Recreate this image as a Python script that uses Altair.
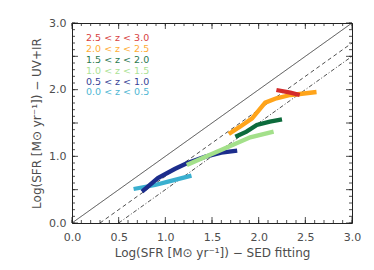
import altair as alt
import pandas as pd
import numpy as np

# ---- data ----
labels = ["2.5 < z < 3.0", "2.0 < z < 2.5", "1.5 < z < 2.0",
          "1.0 < z < 1.5", "0.5 < z < 1.0", "0.0 < z < 0.5"]
colors = ["#d42b2b", "#ffa41a", "#0d6b3c", "#a3e08a", "#1c2d8c", "#3aafcf"]

cyan_x = [0.66, 0.89, 1.03, 1.28]
cyan_y = [0.51, 0.57, 0.62, 0.71]
blue_x = [0.75, 0.92, 1.10, 1.23, 1.43, 1.60, 1.77]
blue_y = [0.47, 0.675, 0.81, 0.895, 0.995, 1.055, 1.085]
lgreen_x = [1.23, 1.43, 1.64, 1.91, 2.16]
lgreen_y = [0.87, 0.995, 1.12, 1.285, 1.37]
dgreen_x = [1.75, 1.87, 1.98, 2.12, 2.25]
dgreen_y = [1.295, 1.37, 1.47, 1.52, 1.555]
orange_x = [1.68, 1.80, 1.93, 2.07, 2.19, 2.34, 2.44, 2.62]
orange_y = [1.335, 1.445, 1.57, 1.805, 1.87, 1.92, 1.935, 1.965]
red_x = [2.19, 2.34, 2.44]
red_y = [1.995, 1.955, 1.92]

series_x = [red_x, orange_x, dgreen_x, lgreen_x, blue_x, cyan_x]
series_y = [red_y, orange_y, dgreen_y, lgreen_y, blue_y, cyan_y]

ref_kind = ["solid", "solid", "dash", "dash", "dashdot", "dashdot"]
ref_x = [0.0, 3.0, 0.3, 3.0, 0.5, 3.0]
ref_y = [0.0, 3.0, 0.0, 2.7, 0.0, 2.5]

legend_x = 0.15
legend_y = [2.77, 2.605, 2.445, 2.285, 2.12, 1.96]

major_ticks = [0.0, 0.5, 1.0, 1.5, 2.0, 2.5, 3.0]
minor_ticks = [round(v, 1) for v in np.arange(0, 3.01, 0.1)]

W, H = 280, 200
FONT = "DejaVu Sans"
TXT = "#4d4d4d"

xs = alt.Scale(domain=[0, 3], nice=False, zero=False)
ys = alt.Scale(domain=[0, 3], nice=False, zero=False)

rows = []
for lab, xv, yv in zip(labels, series_x, series_y):
    for a, b in zip(xv, yv):
        rows.append({"z": lab, "x": a, "y": b})
df = pd.DataFrame(rows)
draw_order = labels[::-1]  # low z first, high z on top

base_x = alt.X("x:Q", scale=xs,
               axis=alt.Axis(values=major_ticks, format=".1f", tickSize=0, domain=False, grid=False,
                             labelFlush=False, labelPadding=8, labelFontSize=11, labelFont=FONT,
                             labelColor=TXT,
                             title="Log(SFR [M⊙ yr⁻¹]) − SED fitting", titleFont=FONT,
                             titleFontSize=12, titleFontWeight="normal", titleColor=TXT,
                             titlePadding=5))
base_y = alt.Y("y:Q", scale=ys,
               axis=alt.Axis(values=major_ticks, format=".1f", tickSize=0, domain=False, grid=False,
                             labelFlush=False, labelPadding=6, labelFontSize=11, labelFont=FONT,
                             labelColor=TXT,
                             title="Log(SFR [M⊙ yr⁻¹]) − UV+IR", titleFont=FONT,
                             titleFontSize=12, titleFontWeight="normal", titleColor=TXT,
                             titlePadding=5))

ref_df = pd.DataFrame({"kind": ref_kind, "x": ref_x, "y": ref_y})
refs = alt.Chart(ref_df).mark_line(color="#222222", strokeWidth=0.8, clip=True).encode(
    x=base_x, y=base_y, detail="kind:N",
    strokeDash=alt.StrokeDash("kind:N",
                              scale=alt.Scale(domain=["solid", "dash", "dashdot"],
                                              range=[[1, 0], [4, 3], [4, 2, 1, 2]]),
                              legend=None))

layers = [refs]
for lab in draw_order:
    c = colors[labels.index(lab)]
    layers.append(alt.Chart(df[df.z == lab]).mark_line(color=c, strokeWidth=4.3, strokeCap="butt").encode(
        x=alt.X("x:Q", scale=xs), y=alt.Y("y:Q", scale=ys), order="x:Q"))

leg_df = pd.DataFrame({"label": labels, "x": [legend_x] * 6, "y": legend_y, "c": colors})
legend = alt.Chart(leg_df).mark_text(align="left", baseline="middle", font=FONT, fontSize=9.5,
                                     opacity=0.9).encode(
    x=alt.X("x:Q", scale=xs), y=alt.Y("y:Q", scale=ys), text="label:N",
    color=alt.Color("c:N", scale=None))
layers.append(legend)

# inward ticks on all four sides
maj = pd.DataFrame({"v": major_ticks})
mnr = pd.DataFrame({"v": minor_ticks})
tick_color = "#222222"
for d, L in [(mnr, 3), (maj, 6)]:
    layers.append(alt.Chart(d).mark_rule(color=tick_color, strokeWidth=0.8).encode(
        x=alt.X("v:Q", scale=xs), y=alt.value(H), y2=alt.value(H - L)))
    layers.append(alt.Chart(d).mark_rule(color=tick_color, strokeWidth=0.8).encode(
        x=alt.X("v:Q", scale=xs), y=alt.value(0), y2=alt.value(L)))
    layers.append(alt.Chart(d).mark_rule(color=tick_color, strokeWidth=0.8).encode(
        y=alt.Y("v:Q", scale=ys), x=alt.value(0), x2=alt.value(L)))
    layers.append(alt.Chart(d).mark_rule(color=tick_color, strokeWidth=0.8).encode(
        y=alt.Y("v:Q", scale=ys), x=alt.value(W), x2=alt.value(W - L)))

chart = alt.layer(*layers).properties(
    width=W, height=H,
    autosize=alt.AutoSizeParams(type="none"),
    padding={"left": 64, "top": 15, "right": 14, "bottom": 40},
).configure_view(stroke="#222222", strokeWidth=1)

chart.save("out.html", embed_options={"renderer": "svg", "actions": False})
